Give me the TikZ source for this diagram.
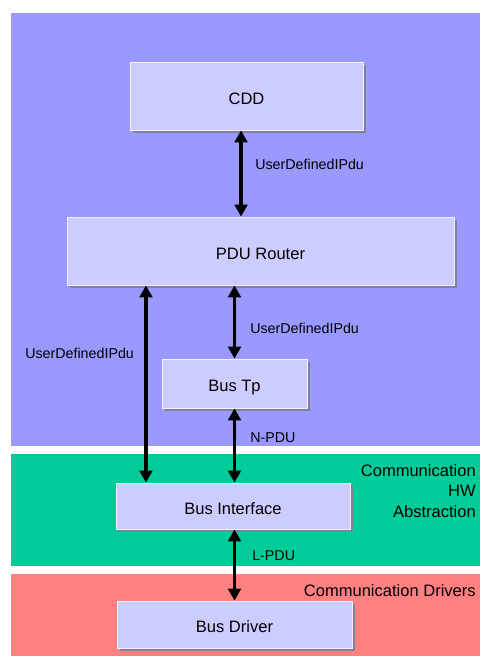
\documentclass[tikz,border=0pt]{standalone}
\usepackage{fontspec}
\setmainfont{Liberation Sans}
\usetikzlibrary{arrows.meta,shadows}
\definecolor{layerblue}{HTML}{9999FF}
\definecolor{layergreen}{HTML}{00CC99}
\definecolor{layerred}{HTML}{FF8080}
\definecolor{modfill}{HTML}{CCCCFF}
\definecolor{modshadow}{HTML}{7F7FA0}

\begin{document}
\begin{tikzpicture}[
  x=0.75pt, y=-0.75pt,
  module/.style={fill=modfill, draw=white!75!modfill, line width=0.6pt,
                 inner sep=0pt, text height=12.5pt, text depth=0pt,
                 font=\fontsize{12.4}{15}\selectfont,
                 general shadow={fill=modshadow, shadow xshift=2.2pt,
                                 shadow yshift=-2.2pt}},
  arr/.style={{Triangle[width=9.5pt,length=9pt]}-{Triangle[width=9.5pt,length=9pt]},
              line width=2.4pt},
  lbl/.style={font=\fontsize{10.7}{13}\selectfont, anchor=west, inner sep=0pt},
  layerlbl/.style={font=\fontsize{12.4}{15.4}\selectfont, align=right,
                   anchor=east, inner sep=0pt},
]
\useasboundingbox (0,0) rectangle (480,657);

% ---- Layers ----
\fill[layerblue] (11,13) rectangle (480,446);
\fill[layergreen] (11,454) rectangle (480,566);
\fill[layerred] (11,574) rectangle (480,656);

\node[layerlbl] (hwlbl) at (476,491) {Communication\\HW\\Abstraction};
\node[layerlbl] (drvlbl) at (476,590.5) {Communication Drivers};

% ---- Modules ----
\node[module, minimum width=174.75pt, minimum height=51pt] (cdd)
  at (246.5,96) {CDD};
\node[module, minimum width=290.25pt, minimum height=51pt] (pdur)
  at (260.5,251) {PDU Router};
\node[module, minimum width=108.75pt, minimum height=36.75pt] (bustp)
  at (234.5,383.5) {Bus Tp};
\node[module, minimum width=175.5pt, minimum height=34.5pt] (busif)
  at (233,506) {Bus Interface};
\node[module, minimum width=176.25pt, minimum height=35.25pt] (busdrv)
  at (234.5,624.5) {Bus Driver};

% ---- Connections ----
\draw[arr] ([xshift=-4.1pt]cdd.south) -- ([xshift=-4.1pt]cdd.south |- pdur.north);
\draw[arr] ([xshift=-85.9pt]pdur.south) -- ([xshift=-85.9pt]pdur.south |- busif.north);
\draw[arr] (bustp.north |- pdur.south) -- (bustp.north);
\draw[arr] (bustp.south) -- (bustp.south |- busif.north);
\draw[arr] (busdrv.north |- busif.south) -- (busdrv.north);

% ---- Labels ----
\node[lbl] (lblcdd) at (255,164) {UserDefinedIPdu};
\node[lbl] (lbltp) at (250,328) {UserDefinedIPdu};
\node[lbl] (lblif) at (25,353) {UserDefinedIPdu};
\node[lbl] (lblnpdu) at (250,438) {N-PDU};
\node[lbl] (lbllpdu) at (252,556) {L-PDU};

\end{tikzpicture}
\end{document}
